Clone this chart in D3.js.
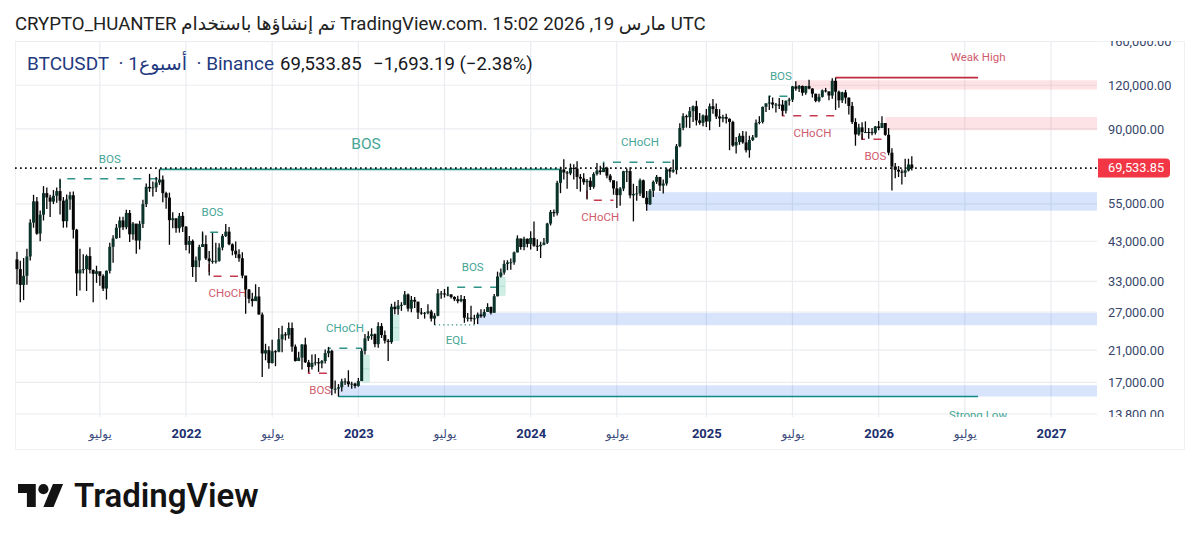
<!DOCTYPE html>
<html>
<head>
<meta charset="utf-8">
<script src="https://cdn.jsdelivr.net/npm/d3@7"></script>
<style>
  html, body { margin: 0; background: #fff; }
  text { font-family: Roboto, "DejaVu Sans", sans-serif; }
</style>
</head>
<body>
<div id="chart"></div>
<script>
// weekly candles, first bar is the week of 2021-01-11
const firstWeek = '2021-01-11';
const firstOpen = 38150;

const closes = [
  // 2021
  35800,32250,34250,38900,48600,55900,45200,51200,59000,57350,55800,58000,59800,56150,49050,56600,58200,46400,34800,35650,35800,39000,35600,34700,35300,34250,31500,35400,41450,43800,47000,49300,47150,51800,45000,48300,43200,48200,54900,61500,60900,61300,63300,64500,59000,57300,49400,50000,46850,50800,47300,
  // 2022
  42000,43100,36300,37900,41400,42200,38400,37700,37800,37800,41250,44500,45800,42150,40400,39450,38450,34300,31300,29450,29000,29900,26550,20550,21000,19300,20850,20800,22550,23300,23170,24300,21500,19550,20000,21800,19400,18800,19300,19400,19250,19550,20600,20900,16300,16300,16450,17100,17100,16780,16850,16600,
  // 2023
  17130,20900,22700,23050,23320,21850,24600,23200,22350,22150,27950,27500,28170,28300,30300,27600,29250,28900,26900,26750,26850,27100,25850,26350,30500,30500,30300,30300,29800,29350,29000,29400,26000,26000,25800,25900,26550,26250,27000,27900,26850,29950,34100,35000,37050,37400,37450,39950,43800,41400,43700,42250,
  // 2024
  43950,41750,41600,42000,42600,48300,52100,51700,63150,68950,67600,67200,69650,69350,65650,64950,63400,64000,61500,66950,68500,67750,69650,66200,64250,60850,58250,60800,68150,68200,58150,58700,58900,64200,57250,54850,59950,63550,65650,62000,62850,69000,68000,68750,80350,90600,97900,97250,101200,104500,95200,93700,
  // 2025
  98350,94500,104500,102600,97700,96450,97350,96250,94250,80700,82600,86050,82400,78250,83700,85200,93750,94300,104100,106450,107100,105700,105700,105600,101450,108350,109200,119100,117300,119400,114200,119300,117400,113500,108250,111150,116000,115300,112150,123500,115000,108650,114500,110600,104700,94200,86800,90900,88150,88200,88150,87800,
  // 2026
  91500,90600,93600,86600,77000,70300,68800,68000,67500,68500,71227,69533.85
];
const highs = [
  40100,37800,38500,40950,49700,58350,57500,52650,61800,61200,58400,60200,61200,64850,57500,58450,59500,59600,46650,40900,39500,39400,41300,35700,36600,35100,34600,35500,42600,44700,48150,50500,50500,52900,52800,48800,45200,49200,56500,62900,67000,63700,65600,69000,66300,59500,59200,52000,50000,51800,52100,
  47500,44500,43500,38900,42000,45850,44750,40300,45400,42600,42400,45100,48200,47200,42400,42950,40800,40000,34250,31400,30650,32400,31800,26900,21900,21550,22500,21000,24300,24650,23650,25200,25200,21800,20800,21850,22800,19700,20400,20450,19950,19700,21100,21450,21050,17200,16800,17400,17450,18400,17050,16950,
  17500,21250,23350,23800,24250,23450,25250,25100,23900,22600,28500,28900,29200,28800,31000,30500,30000,29800,28900,27700,27000,28400,27400,26800,31400,31000,31400,31800,30350,29950,30050,30200,30000,26800,28150,26500,26900,27500,27500,28600,28000,30400,35200,35950,37950,37950,38400,40200,44700,43450,44300,43800,
  45900,49000,43600,42850,43900,48600,52800,52950,64000,70200,73800,68200,71650,71300,72800,66900,67250,64750,65500,67700,71950,70600,71950,70200,66950,62450,63850,61400,68350,69400,70000,62750,61800,65000,64500,59800,60650,64130,66500,65600,64500,69500,69500,73600,81500,93400,99800,98900,104000,105000,108350,99900,
  98950,102700,106400,109600,106450,102500,98800,99500,96500,95000,85300,87450,88750,88500,86100,86500,95800,97900,104350,106650,112000,110700,106800,110400,108950,108500,110500,119500,123200,120250,119800,119300,124500,117650,113500,113400,116700,117900,113450,125700,126200,116000,114900,116400,110700,107500,96600,93100,94100,94600,90600,90500,
  91800,94800,97900,93400,90500,79300,72000,70500,69000,74000,74000,75200
];
const lows = [
  32400,28800,29200,32300,37900,47000,44900,43000,49300,53200,50400,54900,55400,51300,47000,47050,52900,43800,30000,31100,34800,31000,34800,28800,32700,32100,31000,29300,34800,37300,43700,43900,46300,46500,42800,43400,39600,40750,46900,53900,59500,57700,59400,62300,55600,53250,42000,46800,45500,45500,45700,
  40500,39650,34000,32900,36250,41650,38000,34300,37100,37150,37550,40500,44200,41900,39200,38500,37600,33700,26700,28600,28000,29300,26550,17600,19650,18600,19250,18900,20700,20700,22400,22650,20800,19500,19550,18500,19300,18150,18500,19000,18200,18650,19250,20050,15600,15800,15476,16000,16700,16500,16300,16350,
  16500,17300,20400,22300,22500,21400,21350,22750,21950,19550,21900,26600,26500,27200,28200,27100,26950,27700,25800,26500,25850,26600,25350,24800,26250,29450,29700,29950,29500,29000,28600,28800,25150,25350,25350,24900,24950,26000,26000,27150,26550,26950,29900,33900,34500,35550,35650,36850,39950,40650,40550,41300,
  40750,41500,40300,38500,41900,42250,47700,50500,50900,59000,64550,60700,66400,64500,60650,59600,62400,56550,60200,60750,66300,66600,68500,65050,63350,58400,53500,54300,59800,63450,57100,49000,56100,57900,57100,52550,54600,57500,62700,59800,58900,62000,65250,67500,66800,79800,89300,90800,90500,94200,92100,92500,
  91550,91200,89250,99500,96150,91230,94100,93300,78250,80000,76600,81100,81600,77050,74500,83100,85150,92800,93350,100700,102000,103100,100370,102650,98200,99600,105100,107450,115700,114700,112000,112650,116800,110700,107300,107300,110750,114400,108650,109700,102000,103500,106700,106300,98950,93000,80600,86000,83800,87600,84450,86400,
  86850,89300,90900,86000,75700,60000,65100,65600,62500,65600,68000,68500
];

const lastPrice = 69533.85;

const priceTicks = [160000, 120000, 90000, 55000, 43000, 33000, 27000, 21000, 17000, 13800];
const yearTicks = ['2022-01-03', '2023-01-02', '2024-01-01', '2025-01-06', '2026-01-05', '2027-01-04'];
const julyTicks = ['2021-07-05', '2022-07-04', '2023-07-03', '2024-07-01', '2025-07-07', '2026-07-06'];
const julyLabel = 'يوليو';

// zones: from date, top price, bottom price (they all run to the pane edge)
const blueZones = [
  ['2024-09-02', 59350, 52560],
  ['2023-09-11', 26830, 24750],
  ['2022-11-21', 16670, 15476]
];
const redZones = [
  ['2025-07-14', 124000, 116650],
  ['2026-01-19', 97400, 89260]
];
// imbalance boxes next to the impulse candles
const mintBoxes = [
  ['2023-01-12', '2023-01-25', 20310, 16980],
  ['2023-03-16', '2023-03-29', 26430, 22410],
  ['2023-10-26', '2023-11-08', 33920, 30140]
];

// structure lines: label, from, to, price, price the start tick hangs from
const greenDashed = [
  ['BOS', '2021-04-12', '2021-11-08', 64850, 61000],
  ['BOS', '2022-02-07', '2022-03-21', 45600, 43000],
  ['CHoCH', '2022-10-31', '2023-01-09', 21280, 20500],
  ['BOS', '2023-07-10', '2023-10-23', 31760, 30300],
  ['CHoCH', '2024-06-03', '2024-11-04', 72300, 69000],
  ['BOS', '2025-05-19', '2025-07-07', 111600, 107000]
];
const redDashed = [
  ['CHoCH', '2022-02-21', '2022-05-09', 34150, 37000],
  ['BOS', '2022-09-19', '2022-11-07', 18040, 18800],
  ['CHoCH', '2024-04-29', '2024-06-24', 56300, 60000],
  ['CHoCH', '2025-06-16', '2025-10-20', 98130, 102000],
  ['BOS', '2025-12-01', '2026-01-26', 84100, 87000]
];
const eql = ['EQL', '2023-06-12', '2023-09-11', 24800];
const bigBos = ['BOS', '2021-11-08', '2024-03-04', 69000];
const weakHigh = ['Weak High', '2025-10-06', '2026-08-03', 126200];
const strongLow = ['Strong Low', '2022-11-21', '2026-08-03', 15476];

const titleText = 'CRYPTO_HUANTER تم إنشاؤها باستخدام TradingView.com. 15:02 2026 ,19 مارس UTC';
const symbolText = 'BTCUSDT\u00a0\u00a0· 1أسبوع\u00a0\u00a0· Binance';
const priceText = '69,533.85';
const changeText = '−1,693.19 (−2.38%)';

const width = 1200, height = 542;
const pane = { left: 15, right: 1097, top: 41, bottom: 417 };
const teal = '#2f9487', tealText = '#45a596', red = '#c73a50', redText = '#cf5c6e';
const gridColor = '#eaecf0';

const parse = d3.utcParse('%Y-%m-%d');

const x = d3.scaleUtc()
  .domain([parse(yearTicks[0]), parse(yearTicks[5])])
  .range([186, 1051]);
const y = d3.scaleLog()
  .domain([13800, 160000])
  .range([414, 41.5]);

const weeks = d3.utcMonday.range(parse(firstWeek), d3.utcDay.offset(parse(firstWeek), 7 * closes.length));
const candles = weeks.map((date, i) => ({
  date,
  open: i ? closes[i - 1] : firstOpen,
  close: closes[i],
  high: highs[i],
  low: lows[i]
}));

const svg = d3.select('#chart').append('svg')
  .attr('width', width)
  .attr('height', height)
  .style('display', 'block');

svg.append('defs').append('clipPath').attr('id', 'pane-clip').append('rect')
  .attr('x', pane.left).attr('y', pane.top)
  .attr('width', pane.right - pane.left).attr('height', pane.bottom - pane.top);
svg.select('defs').append('clipPath').attr('id', 'price-clip').append('rect')
  .attr('x', pane.right).attr('y', pane.top)
  .attr('width', 90).attr('height', pane.bottom - pane.top);

// frame
svg.append('rect')
  .attr('x', 15.5).attr('y', 41.5).attr('width', 1169).attr('height', 408)
  .attr('fill', 'none').attr('stroke', '#eef0f3');

// grid
const grid = svg.append('g');
grid.selectAll('line.h').data(priceTicks).join('line')
  .attr('class', 'h')
  .attr('x1', pane.left).attr('x2', pane.right)
  .attr('y1', (d) => y(d)).attr('y2', (d) => y(d))
  .attr('stroke', gridColor).attr('stroke-width', 1.2);
grid.selectAll('line.v').data(yearTicks.concat(julyTicks)).join('line')
  .attr('class', 'v')
  .attr('x1', (d) => x(parse(d))).attr('x2', (d) => x(parse(d)))
  .attr('y1', pane.top).attr('y2', pane.bottom)
  .attr('stroke', gridColor).attr('stroke-width', 1.2);

const plot = svg.append('g').attr('clip-path', 'url(#pane-clip)');

// zones
function drawZones(zones, fill) {
  plot.append('g').selectAll('rect').data(zones).join('rect')
    .attr('x', (d) => x(parse(d[0])))
    .attr('width', (d) => pane.right - x(parse(d[0])))
    .attr('y', (d) => y(d[1]))
    .attr('height', (d) => y(d[2]) - y(d[1]))
    .attr('fill', fill);
}
drawZones(blueZones, 'rgba(41,110,235,0.19)');
drawZones(redZones, 'rgba(242,54,69,0.14)');

plot.append('g').selectAll('rect').data(mintBoxes).join('rect')
  .attr('x', (d) => x(parse(d[0])))
  .attr('width', (d) => x(parse(d[1])) - x(parse(d[0])))
  .attr('y', (d) => y(d[2]))
  .attr('height', (d) => y(d[3]) - y(d[2]))
  .attr('fill', '#cfeee5').attr('stroke', '#c0e6da').attr('stroke-width', 0.6);
plot.append('g').selectAll('line').data(mintBoxes).join('line')
  .attr('x1', (d) => x(parse(d[0])))
  .attr('x2', (d) => x(parse(d[1])))
  .attr('y1', (d) => (y(d[2]) + y(d[3])) / 2)
  .attr('y2', (d) => (y(d[2]) + y(d[3])) / 2)
  .attr('stroke', '#a8d9ca').attr('stroke-width', 0.8);

// structure lines with their labels
function drawStructure(rows, color, textColor, dy) {
  rows.forEach((d) => {
    const x0 = x(parse(d[1])), x1 = x(parse(d[2])), yy = y(d[3]);
    plot.append('path')
      .attr('d', d3.line()([[x0, y(d[4])], [x0, yy], [x1, yy]]))
      .attr('fill', 'none')
      .attr('stroke', color)
      .attr('stroke-width', 1.5)
      .attr('stroke-dasharray', '8 8.5');
    plot.append('text')
      .attr('x', (x0 + x1) / 2).attr('y', yy + dy)
      .attr('text-anchor', 'middle').attr('dominant-baseline', 'middle')
      .attr('font-size', 11.5).attr('fill', textColor)
      .text(d[0]);
  });
}
drawStructure(greenDashed, teal, tealText, -19);
drawStructure(redDashed, red, redText, 18);

plot.append('line')
  .attr('x1', x(parse(eql[1]))).attr('x2', x(parse(eql[2])))
  .attr('y1', y(eql[3])).attr('y2', y(eql[3]))
  .attr('stroke', teal).attr('stroke-width', 1.3).attr('stroke-dasharray', '1.3 3');
plot.append('text')
  .attr('x', (x(parse(eql[1])) + x(parse(eql[2]))) / 2).attr('y', y(eql[3]) + 16)
  .attr('text-anchor', 'middle').attr('dominant-baseline', 'middle')
  .attr('font-size', 11.5).attr('fill', tealText).text(eql[0]);

plot.append('line')
  .attr('x1', x(parse(bigBos[1]))).attr('x2', x(parse(bigBos[2])))
  .attr('y1', y(bigBos[3])).attr('y2', y(bigBos[3]))
  .attr('stroke', '#1f8f80').attr('stroke-width', 1.6);
plot.append('text')
  .attr('x', 366).attr('y', y(bigBos[3]) - 24)
  .attr('text-anchor', 'middle').attr('dominant-baseline', 'middle')
  .attr('font-size', 15.5).attr('fill', tealText).text(bigBos[0]);

plot.append('line')
  .attr('x1', x(parse(weakHigh[1]))).attr('x2', x(parse(weakHigh[2])))
  .attr('y1', y(weakHigh[3])).attr('y2', y(weakHigh[3]))
  .attr('stroke', '#c0283c').attr('stroke-width', 1.7);
plot.append('text')
  .attr('x', x(parse(weakHigh[2]))).attr('y', y(weakHigh[3]) - 20)
  .attr('text-anchor', 'middle').attr('dominant-baseline', 'middle')
  .attr('font-size', 11.5).attr('fill', redText).text(weakHigh[0]);

plot.append('line')
  .attr('x1', x(parse(strongLow[1]))).attr('x2', x(parse(strongLow[2])))
  .attr('y1', y(strongLow[3])).attr('y2', y(strongLow[3]))
  .attr('stroke', '#0f8a86').attr('stroke-width', 1.5);
plot.append('text')
  .attr('x', x(parse(strongLow[2]))).attr('y', y(strongLow[3]) + 19)
  .attr('text-anchor', 'middle').attr('dominant-baseline', 'middle')
  .attr('font-size', 11.5).attr('fill', tealText).text(strongLow[0]);

// candles
plot.append('g').selectAll('line').data(candles).join('line')
  .attr('x1', (d) => x(d.date)).attr('x2', (d) => x(d.date))
  .attr('y1', (d) => y(d.high)).attr('y2', (d) => y(d.low))
  .attr('stroke', '#050505').attr('stroke-width', 1.3);
plot.append('g').selectAll('rect').data(candles).join('rect')
  .attr('x', (d) => x(d.date) - 1.5)
  .attr('width', 3)
  .attr('y', (d) => y(Math.max(d.open, d.close)))
  .attr('height', (d) => Math.max(1, Math.abs(y(d.open) - y(d.close))))
  .attr('fill', (d) => (d.close >= d.open ? '#0a3329' : '#050505'));

// last price line
svg.append('line')
  .attr('x1', pane.left).attr('x2', pane.right)
  .attr('y1', y(lastPrice)).attr('y2', y(lastPrice))
  .attr('stroke', '#111').attr('stroke-width', 1.7).attr('stroke-dasharray', '1.7 3.3');

// price axis
const priceAxis = svg.append('g')
  .attr('clip-path', 'url(#price-clip)')
  .append('g')
  .attr('transform', `translate(${pane.right},0)`)
  .call(d3.axisRight(y).tickValues(priceTicks).tickFormat(d3.format(',.2f')).tickSize(0).tickPadding(11));
priceAxis.select('.domain').remove();
priceAxis.selectAll('text')
  .attr('font-size', 12.8).attr('font-family', 'Roboto, sans-serif').attr('fill', '#37456b');

svg.append('path')
  .attr('d', 'M1098,158.5h68a4,4 0 0 1 4,4v11a4,4 0 0 1 -4,4h-68z')
  .attr('fill', '#f23645');
svg.append('text')
  .attr('x', 1108).attr('y', y(lastPrice))
  .attr('dominant-baseline', 'middle')
  .attr('font-size', 12.8).attr('fill', '#fff')
  .text(d3.format(',.2f')(lastPrice));

// time axis
const yearAxis = svg.append('g')
  .attr('transform', `translate(0,${pane.bottom})`)
  .call(d3.axisBottom(x).tickValues(yearTicks.map(parse)).tickFormat(d3.utcFormat('%Y')).tickSize(0).tickPadding(12));
yearAxis.select('.domain').remove();
yearAxis.selectAll('text')
  .attr('font-size', 13).attr('font-weight', 700).attr('font-family', 'Roboto, sans-serif').attr('fill', '#1c2f6e');

const julyAxis = svg.append('g')
  .attr('transform', `translate(0,${pane.bottom})`)
  .call(d3.axisBottom(x).tickValues(julyTicks.map(parse)).tickFormat(() => julyLabel).tickSize(0).tickPadding(12));
julyAxis.select('.domain').remove();
julyAxis.selectAll('text')
  .attr('font-size', 12).attr('font-family', 'Roboto, "DejaVu Sans", sans-serif').attr('fill', '#3d4c7c');

// title + header
svg.append('text').attr('x', 15).attr('y', 30)
  .attr('font-size', 18.6).attr('fill', '#222').text(titleText);
svg.append('text').attr('x', 27).attr('y', 70)
  .attr('font-size', 19).attr('fill', '#1f3a80').text(symbolText);
svg.append('text').attr('x', 280).attr('y', 70)
  .attr('font-size', 18.6).attr('fill', '#17181c').text(priceText);
svg.append('text').attr('x', 373).attr('y', 70)
  .attr('font-size', 18.6).attr('fill', '#17181c').text(changeText);

// logo
svg.append('path')
  .attr('transform', 'translate(18,479) scale(1.27)')
  .attr('d', 'M14 22H7V11H0V4h14v18zM28 22h-8l7.5-18h8L28 22z')
  .attr('fill', '#131313');
svg.append('circle')
  .attr('cx', 18 + 20 * 1.27).attr('cy', 479 + 8 * 1.27).attr('r', 4 * 1.27)
  .attr('fill', '#131313');
svg.append('text').attr('x', 74).attr('y', 507)
  .attr('font-size', 33).attr('font-weight', 600)
  .attr('font-family', 'Inter, sans-serif')
  .attr('fill', '#131313').text('TradingView');
</script>
</body>
</html>
